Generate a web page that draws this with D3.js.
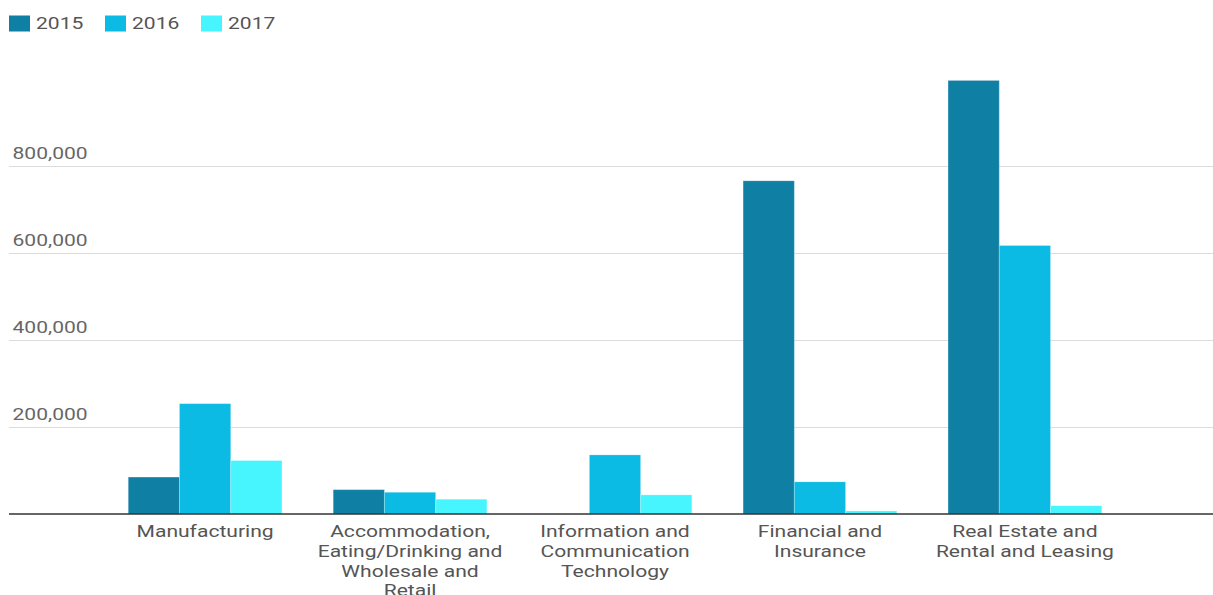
<!DOCTYPE html>
<html>
<head>
<meta charset="utf-8">
<script src="https://cdn.jsdelivr.net/npm/d3@7"></script>
<style>
  html, body { margin: 0; padding: 0; background: #fff; }
  svg { display: block; }
  text { font-family: Roboto, "Noto Sans", sans-serif; }
</style>
</head>
<body>
<svg id="chart" width="1213" height="595"></svg>
<script>
// Categories (line breaks mark where each axis label wraps)
const categories = [
  "Manufacturing",
  "Accommodation,\nEating/Drinking and\nWholesale and\nRetail",
  "Information and\nCommunication\nTechnology",
  "Financial and\nInsurance",
  "Real Estate and\nRental and Leasing"
];
const years = ["2015", "2016", "2017"];

// Values per year, in category order
const values2015 = [85000, 56000, 0, 767000, 998000];
const values2016 = [254000, 50000, 136000, 74000, 618000];
const values2017 = [123000, 34000, 44000, 7000, 19000];

const yTicks = [200000, 400000, 600000, 800000];
const colors = ["#0f80a4", "#0bbbe3", "#47f5ff"];

const seriesValues = [values2015, values2016, values2017];

// The drawing is laid out in a narrower coordinate space and stretched to the page width
const stretch = 1.24;
const W = 1213 / stretch, H = 595;

const svg = d3.select("#chart")
  .attr("viewBox", `0 0 ${W} ${H}`)
  .attr("preserveAspectRatio", "none");

const left = 9 / stretch;
const baseY = 514;

const x = d3.scaleBand()
  .domain(categories)
  .range([77 / stretch, 1153 / stretch])
  .paddingInner(0.25)
  .paddingOuter(0.25);

const xYear = d3.scaleBand()
  .domain(years)
  .range([0, x.bandwidth()]);

const y = d3.scaleLinear()
  .domain([0, 1000000])
  .range([baseY, 79.6]);

const fmt = d3.format(",");

// Horizontal gridlines with labels sitting above them
const grid = svg.append("g");
grid.selectAll("line")
  .data(yTicks)
  .join("line")
  .attr("x1", left)
  .attr("x2", W)
  .attr("y1", d => Math.round(y(d)) + 0.5)
  .attr("y2", d => Math.round(y(d)) + 0.5)
  .attr("stroke", "#dcdcdc")
  .attr("stroke-width", 1);

grid.selectAll("text")
  .data(yTicks)
  .join("text")
  .attr("x", 12.5 / stretch)
  .attr("y", d => y(d) - 7)
  .attr("fill", "#666")
  .attr("font-size", 17)
  .text(d => fmt(d));

// Bars
const rows = categories.map((c, i) => ({
  category: c,
  values: years.map((yr, j) => ({ year: yr, value: seriesValues[j][i], color: colors[j] }))
}));

const groups = svg.append("g")
  .selectAll("g")
  .data(rows)
  .join("g")
  .attr("transform", d => `translate(${x(d.category)},0)`);

groups.selectAll("rect")
  .data(d => d.values.filter(v => v.value > 0))
  .join("rect")
  .attr("x", d => xYear(d.year))
  .attr("width", xYear.bandwidth())
  .attr("y", d => y(d.value))
  .attr("height", d => baseY - y(d.value))
  .attr("fill", d => d.color)
  .attr("stroke", "#ffffff")
  .attr("stroke-opacity", 0.25)
  .attr("stroke-width", 0.8);

// Baseline
svg.append("line")
  .attr("x1", left)
  .attr("x2", W)
  .attr("y1", baseY)
  .attr("y2", baseY)
  .attr("stroke", "#333")
  .attr("stroke-width", 1.6);

// Category labels
const labels = svg.append("g")
  .selectAll("text")
  .data(categories)
  .join("text")
  .attr("x", d => x(d) + x.bandwidth() / 2)
  .attr("y", 537.5)
  .attr("text-anchor", "middle")
  .attr("fill", "#555")
  .attr("font-size", 17);

labels.selectAll("tspan")
  .data(d => d.split("\n"))
  .join("tspan")
  .attr("x", function () { return d3.select(this.parentNode).attr("x"); })
  .attr("dy", (d, i) => i === 0 ? 0 : 19.6)
  .text(d => d);

// Legend
const legend = svg.append("g")
  .selectAll("g")
  .data(years)
  .join("g")
  .attr("transform", (d, i) => `translate(${(9 + i * 96) / stretch},0)`);

legend.append("rect")
  .attr("x", 0)
  .attr("y", 15.5)
  .attr("width", 21 / stretch)
  .attr("height", 16)
  .attr("fill", (d, i) => colors[i]);

legend.append("text")
  .attr("x", 27 / stretch)
  .attr("y", 29.5)
  .attr("fill", "#555")
  .attr("font-size", 17)
  .text(d => d);
</script>
</body>
</html>
